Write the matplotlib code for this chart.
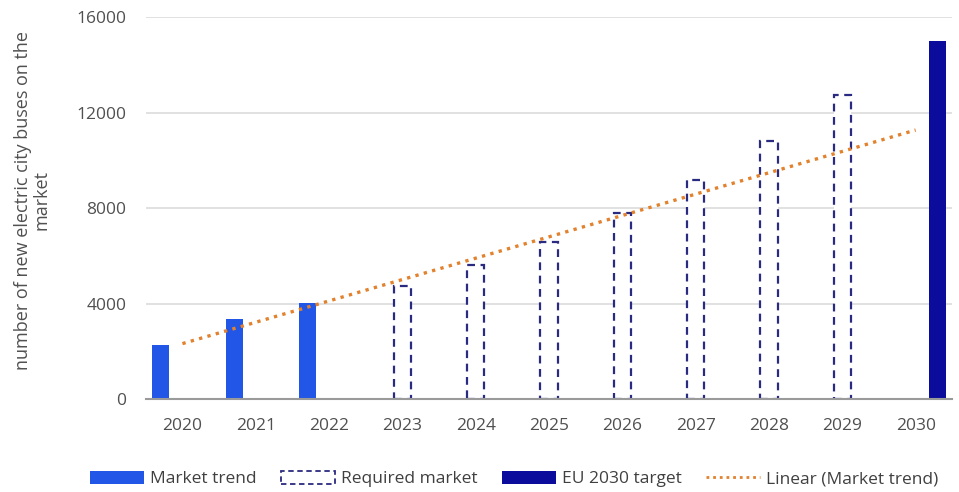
import numpy as np
import matplotlib
matplotlib.use("Agg")
import matplotlib.pyplot as plt
from matplotlib.patches import Patch
from matplotlib.lines import Line2D

plt.rcParams["font.family"] = ["Open Sans", "DejaVu Sans"]

years = ["2020", "2021", "2022", "2023", "2024", "2025", "2026", "2027", "2028", "2029", "2030"]
market_trend = [2250, 3360, 4040, 0, 0, 0, 0, 0, 0, 0, 0]
required_market = [0, 0, 0, 4750, 5630, 6600, 7800, 9170, 10820, 12720, 0]
eu_target = [0, 0, 0, 0, 0, 0, 0, 0, 0, 0, 15000]

c_trend = "#2256e6"
c_req = "#2a2a80"
c_eu = "#0b0c9c"
c_lin = "#e2822e"

fig = plt.figure(figsize=(9.59, 4.92), dpi=100)
ax = fig.add_axes([0.152, 0.189, 0.841, 0.776])

x = np.arange(len(years))
w = 0.235
off = 0.295


def nonzero(vals):
    v = np.array(vals, dtype=float)
    m = v > 0
    return x[m], v[m]


xs, vs = nonzero(market_trend)
ax.bar(xs - off, vs, w, color=c_trend, zorder=3)
xs, vs = nonzero(required_market)
ax.bar(xs, vs, w, facecolor="white", edgecolor=c_req,
       linewidth=1.6, linestyle=(0, (3.5, 2.5)), zorder=3)
xs, vs = nonzero(eu_target)
ax.bar(xs + off, vs, w, color=c_eu, zorder=3)

# linear trend fitted on the observed market years
n_obs = 3
coef = np.polyfit(x[:n_obs], market_trend[:n_obs], 1)
ax.plot(x, np.polyval(coef, x), color=c_lin, linestyle=(0, (1, 1.6)),
        linewidth=2.4, zorder=4)

ax.set_xlim(-0.5, len(years) - 0.5)
ax.set_ylim(0, 16000)
ax.set_yticks([0, 4000, 8000, 12000, 16000])
ax.set_xticks(x)
ax.set_xticklabels(years)
ax.tick_params(axis="both", length=0, labelsize=12.5, colors="#505050")
ax.tick_params(axis="x", pad=14)
ax.tick_params(axis="y", pad=14)
ax.yaxis.grid(True, color="#dcdcdc", linewidth=1.2, zorder=0)
for s in ["top", "right", "left"]:
    ax.spines[s].set_visible(False)
ax.spines["bottom"].set_color("#9a9a9a")
ax.spines["bottom"].set_linewidth(1.5)
ax.spines["bottom"].set_zorder(5)

ax.set_ylabel("number of new electric city buses on the\nmarket", fontsize=13,
              color="#505050", linespacing=1.05)
ax.yaxis.set_label_coords(-0.118, 0.52)

handles = [
    Patch(facecolor=c_trend),
    Patch(facecolor="white", edgecolor=c_req, linestyle=(0, (3, 2)), linewidth=1.3),
    Patch(facecolor=c_eu),
    Line2D([0], [0], color=c_lin, linestyle=(0, (1, 1.4)), linewidth=2),
]
labels = ["Market trend", "Required market", "EU 2030 target", "Linear (Market trend)"]
fig.legend(handles, labels, loc="center", bbox_to_anchor=(0.536, 0.026), ncol=4,
           frameon=False, fontsize=12.5, handlelength=3.1, handleheight=0.75,
           columnspacing=1.4, handletextpad=0.35, labelcolor="#404040")

fig.savefig("out.png", dpi=100)
